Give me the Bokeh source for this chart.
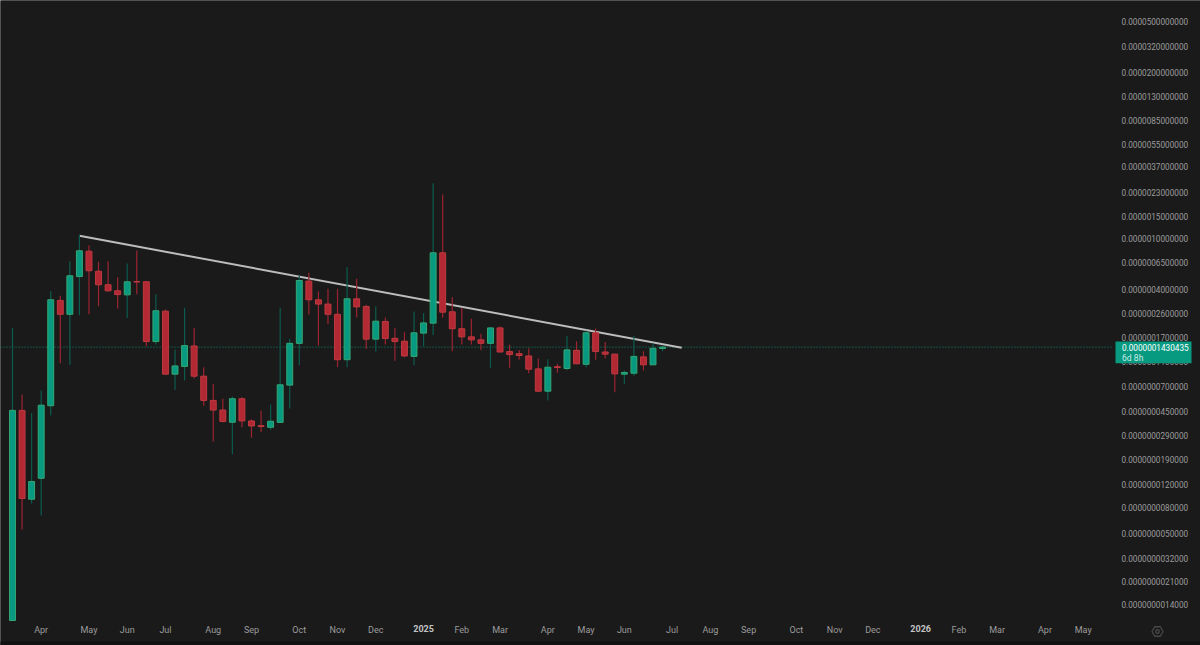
import numpy as np
from bokeh.plotting import figure
from bokeh.models import (ColumnDataSource, FixedTicker, Label, BoxAnnotation,
                          PolyAnnotation, LinearAxis, Range1d)
from bokeh.embed import file_html
from bokeh.resources import INLINE

# prices are in units of 1e-9
UNIT = 1e-9
highs = [202, 61.0, 43.6, 65.5, 391, 360, 671, 1078, 894, 664, 671, 503, 644, 813, 470, 370, 281, 137, 290, 203,
         99.6, 73.9, 56.5, 58.8, 58, 38.9, 45.8, 51.0, 290, 166, 519, 545, 389, 408, 408, 602, 489, 306, 297, 244,
         202, 187, 271, 263, 2729, 2228, 351, 290, 238, 182, 205, 207, 150, 136, 140, 116.5, 115, 106, 175, 159,
         193, 200, 157, 127, 93.9, 175, 133, 153, 145.5]
lows = [1.046, 5.38, 8.58, 6.92, 41.8, 107, 104, 254, 258, 298, 387, 286, 241, 370, 145, 149, 87.3, 66.4, 78.4, 81.3,
        49.8, 26.2, 37.0, 20.8, 33.8, 28.0, 30.9, 32.3, 36.6, 47.4, 103, 257, 147, 216, 99.6, 99.6, 244, 138, 132, 150,
        112, 119, 103, 145, 178, 242, 133, 150, 150, 135, 98.6, 130, 98.6, 114, 89.4, 63.5, 54.8, 90.1, 94.4, 105,
        99.6, 114, 116.5, 63.5, 73.4, 85.3, 93.9, 103.5, 133]
opens = [1.046, 45.8, 9.27, 13.5, 49.8, 331, 258, 509, 803, 560, 439, 394, 366, 465, 463, 158, 273, 87.9, 101, 146,
         84.8, 54.8, 46.1, 37.0, 56.5, 37.9, 34.8, 33.8, 36.9, 72.2, 153, 469, 335, 310, 258, 114, 341, 297, 165, 227,
         167.5, 159, 121, 184, 220, 780, 270, 199, 172, 163, 153, 202, 132, 127, 122, 96.7, 64.7, 100.5, 97.3, 135,
         105, 185, 131, 126, 87.9, 89.4, 120, 104, 139.6]
closes = [45.8, 9.39, 12.75, 50.3, 335, 258, 516, 809, 565, 439, 394, 368, 463, 461, 158, 275, 87.9, 102, 147, 84.8,
          54.8, 46.1, 37.5, 56.5, 37.9, 34.6, 34.3, 37.7, 72.6, 153, 474, 335, 310, 258, 114, 341, 295, 165, 228, 167,
          158, 122, 185, 221, 780, 268, 199, 172, 163, 153, 202, 131, 125, 123, 96.1, 64.7, 99.6, 99, 136, 106,
          185, 132, 126, 88.4, 90.7, 121, 104, 140, 143.0435]

trend_index = [7, 70]
trend_price = [1060, 141.5]
last_price = 143.0435

month_ticks = [3, 8, 12, 16, 21, 25, 30, 34, 38, 47, 51, 56, 60, 64, 69, 73, 77, 82, 86, 90, 99, 103, 108, 112]
month_labels = ["Apr", "May", "Jun", "Jul", "Aug", "Sep", "Oct", "Nov", "Dec", "Feb", "Mar", "Apr", "May", "Jun",
                "Jul", "Aug", "Sep", "Oct", "Nov", "Dec", "Feb", "Mar", "Apr", "May"]
year_ticks = [43, 95]
year_labels = ["2025", "2026"]
price_labels = ["0.0000500000000", "0.0000320000000", "0.0000200000000", "0.0000130000000", "0.0000085000000",
                "0.0000055000000", "0.0000037000000", "0.0000023000000", "0.0000015000000", "0.0000010000000",
                "0.0000006500000", "0.0000004000000", "0.0000002600000", "0.0000001700000", "0.0000001100000",
                "0.0000000700000", "0.0000000450000", "0.0000000290000", "0.0000000190000", "0.0000000120000",
                "0.0000000080000", "0.0000000050000", "0.0000000032000", "0.0000000021000", "0.0000000014000"]

W, H = 1200, 645
BG = "#1a1a1a"
UP, UP_EDGE, UP_WICK = "#089981", "#35a873", "#0b5c4e"
DOWN, DOWN_EDGE, DOWN_WICK = "#b22833", "#bf3a40", "#9c2430"
GREY = "#9c9c9c"
X_LEFT, X_PANE_END, X_RIGHT = -1.255, 115.17, 124.27      # canvas left, pane end, canvas right, in bar units
Y_TOP, Y_PANE_END, Y_BOTTOM = 7.30e-5, 1.046e-9, 0.667e-9  # canvas top, pane end, canvas bottom


def sy(y):
    """Screen units run upwards from the bottom of the frame."""
    return H - y


o, c, h, l = [np.array(a) * UNIT for a in (opens, closes, highs, lows)]
idx = np.arange(len(o))
up = c >= o
src = ColumnDataSource(dict(
    x=idx, low=l, high=h,
    top=np.maximum(o, c), bottom=np.minimum(o, c),
    fill=[UP if u else DOWN for u in up],
    edge=[UP_EDGE if u else DOWN_EDGE for u in up],
    wick=[UP_WICK if u else DOWN_WICK for u in up],
))

p = figure(width=W, height=H, output_backend="svg", toolbar_location=None,
           y_axis_type="log", y_axis_location="right",
           x_range=Range1d(X_LEFT, X_RIGHT),
           y_range=Range1d(Y_BOTTOM, Y_TOP),
           background_fill_color=BG, border_fill_color=BG,
           outline_line_color=None,
           min_border_left=0, min_border_top=0, min_border_right=0, min_border_bottom=0)
p.grid.visible = False

# covers the hairline at the canvas edge
p.add_layout(BoxAnnotation(left=-3, right=W + 3, top=H + 3, bottom=-3,
                           left_units="screen", right_units="screen", top_units="screen", bottom_units="screen",
                           fill_color=BG, fill_alpha=1, line_color=None, level="underlay"))

yax = p.yaxis[0]
yax.ticker = FixedTicker(ticks=[float(s) for s in price_labels])
yax.major_label_overrides = {float(s): s for s in price_labels}
yax.fixed_location = X_PANE_END
yax.axis_line_color = None
yax.major_tick_line_color = None
yax.minor_tick_line_color = None
yax.major_tick_out = 0
yax.major_label_standoff = 8
yax.major_label_text_color = GREY
yax.major_label_text_font = "Roboto"
yax.major_label_text_font_size = "8.2px"

xax = p.xaxis[0]
xax.ticker = FixedTicker(ticks=month_ticks)
xax.major_label_overrides = dict(zip(month_ticks, month_labels))
xax.fixed_location = Y_PANE_END
xax.axis_line_color = None
xax.major_tick_line_color = None
xax.minor_tick_line_color = None
xax.major_tick_out = 0
xax.major_label_standoff = 5
xax.major_label_text_color = GREY
xax.major_label_text_font = "Roboto"
xax.major_label_text_font_size = "9px"

year_ax = LinearAxis(ticker=FixedTicker(ticks=year_ticks),
                     major_label_overrides=dict(zip(year_ticks, year_labels)),
                     fixed_location=Y_PANE_END,
                     axis_line_color=None, major_tick_line_color=None, minor_tick_line_color=None,
                     major_tick_out=0,
                     major_label_standoff=5, major_label_text_color="#c4c4c4",
                     major_label_text_font="Roboto", major_label_text_font_size="9px",
                     major_label_text_font_style="bold")
p.add_layout(year_ax, "below")

p.line([X_LEFT, X_PANE_END], [last_price * UNIT, last_price * UNIT],
       line_color=UP, line_width=1, line_dash=[1, 2], line_alpha=0.9)

p.line([trend_index[0], trend_index[1]], [trend_price[0] * UNIT, trend_price[1] * UNIT],
       line_color="#bdbdbd", line_width=2)

p.segment("x", "low", "x", "high", source=src, line_color="wick", line_width=1.2)
p.vbar(x="x", top="top", bottom="bottom", width=0.62, source=src,
       fill_color="fill", line_color="edge", line_width=1)

# price tag on the axis
p.add_layout(BoxAnnotation(left=1115, right=1191, top=sy(341), bottom=sy(362.7),
                           left_units="screen", right_units="screen", top_units="screen", bottom_units="screen",
                           fill_color=UP, fill_alpha=1, line_color=None))
p.add_layout(Label(x=1121.5, y=sy(347), x_units="screen", y_units="screen", text="0.0000001430435",
                   text_color="#ffffff", text_font="Roboto", text_font_size="8.2px",
                   text_baseline="middle"))
p.add_layout(Label(x=1121.5, y=sy(357), x_units="screen", y_units="screen", text="6d 8h",
                   text_color="#c8ebe3", text_font="Roboto", text_font_size="8.6px",
                   text_baseline="middle"))

# strip under the time axis
p.add_layout(BoxAnnotation(left=-3, right=W + 3, top=sy(641), bottom=-3,
                           left_units="screen", right_units="screen", top_units="screen", bottom_units="screen",
                           fill_color="#111111", fill_alpha=1, line_color=None))

# settings glyph
ang = np.deg2rad(np.arange(0, 360, 60))
p.add_layout(PolyAnnotation(xs=list(1157 + 5.5 * np.cos(ang)), ys=list(sy(631) + 5.5 * np.sin(ang)),
                            xs_units="screen", ys_units="screen",
                            fill_alpha=0, line_color="#b4b4b4", line_width=1.3))
ang2 = np.deg2rad(np.arange(0, 360, 30))
p.add_layout(PolyAnnotation(xs=list(1157 + 1.8 * np.cos(ang2)), ys=list(sy(631) + 1.8 * np.sin(ang2)),
                            xs_units="screen", ys_units="screen",
                            fill_alpha=0, line_color="#b4b4b4", line_width=1.3))

open("out.html", "w").write(file_html(p, INLINE))
